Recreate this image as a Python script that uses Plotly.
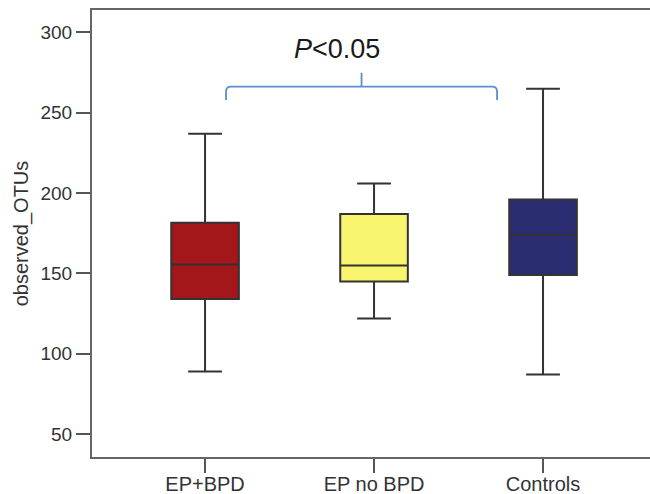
import plotly.graph_objects as go

categories = ["EP+BPD", "EP no BPD", "Controls"]
lower_whisker = [89, 122, 87]
q1_values = [134, 145, 149]
median_values = [155.5, 155, 174]
q3_values = [181.5, 187, 196]
upper_whisker = [237, 206, 265]
box_colors = ["#A3161A", "#F9F56E", "#2A2D72"]
y_tick_values = [50, 100, 150, 200, 250, 300]
p_label = "<i>P</i>&lt;0.05"

FONT = "Liberation Sans, Arial, Helvetica, sans-serif"

fig = go.Figure()
for i, cat in enumerate(categories):
    fig.add_trace(go.Box(
        x=[i],
        q1=[q1_values[i]], median=[median_values[i]], q3=[q3_values[i]],
        lowerfence=[lower_whisker[i]], upperfence=[upper_whisker[i]],
        fillcolor=box_colors[i],
        line=dict(color="#333333", width=2),
        width=0.4, whiskerwidth=0.5,
        boxpoints=False, showlegend=False, name=cat,
    ))

# significance bracket (between first and second/third groups)
bx0, bx1, bxm = 0.124, 1.728, 0.926
by_top, by_end, by_tick = 266.3, 258.0, 275.0
r = 0.03
ry = 3.0
path = (f"M {bx0},{by_end} L {bx0},{by_top-ry} Q {bx0},{by_top} {bx0+r},{by_top} "
        f"L {bx1-r},{by_top} Q {bx1},{by_top} {bx1},{by_top-ry} L {bx1},{by_end} "
        f"M {bxm},{by_top} L {bxm},{by_tick}")
fig.add_shape(type="path", path=path, xref="x", yref="y",
              line=dict(color="#5B8DD3", width=1.8))
fig.add_annotation(x=0.78, y=290, xref="x", yref="y", text=p_label,
                   showarrow=False, font=dict(family=FONT, size=27, color="#1a1a1a"))

fig.update_layout(
    width=650, height=494,
    margin=dict(l=92, r=0, t=10, b=37),
    paper_bgcolor="white", plot_bgcolor="white",
    font=dict(family=FONT, color="#333333"),
    xaxis=dict(
        range=[-0.669, 2.633], automargin=False,
        tickvals=list(range(len(categories))), ticktext=categories,
        showgrid=False, zeroline=False,
        showline=True, linecolor="#666666", linewidth=2, mirror=True,
        ticks="outside", ticklen=14, tickwidth=1.5, tickcolor="#555555",
        tickfont=dict(size=20, color="#333333", family=FONT),
        ticklabelstandoff=-6,
    ),
    yaxis=dict(
        range=[35.7, 314], automargin=False,
        tickvals=y_tick_values,
        showgrid=False, zeroline=False,
        showline=True, linecolor="#666666", linewidth=2,
        ticks="outside", ticklen=14, tickwidth=1.5, tickcolor="#555555",
        tickfont=dict(size=19, color="#333333", family=FONT),
        title=dict(text="observed_OTUs", font=dict(size=20, color="#333333", family=FONT), standoff=6),
    ),
)

fig.write_html("out.html")
